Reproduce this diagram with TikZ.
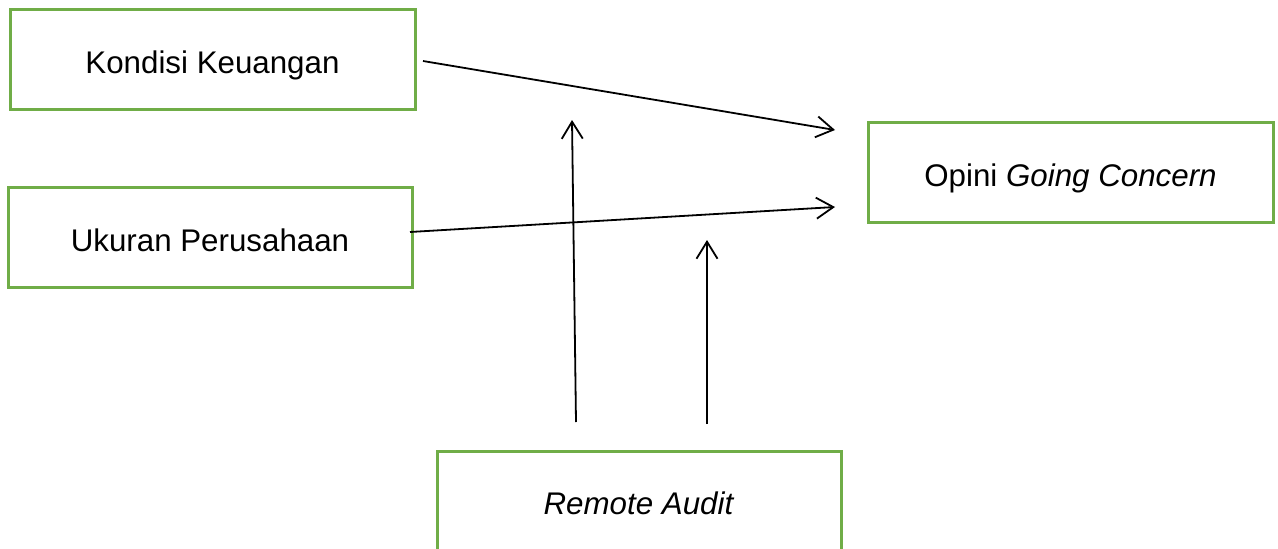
\documentclass[tikz,border=0pt]{standalone}
\usepackage{fontspec}
\setmainfont{Liberation Sans}
\usetikzlibrary{arrows.meta}
\definecolor{boxgreen}{RGB}{112,173,71}
\tikzset{
  varbox/.style={draw=boxgreen, line width=3pt, minimum width=#1, minimum height=100pt, inner sep=0pt,
    text height=27pt, text depth=0pt, font=\fontsize{31.3}{37}\selectfont},
  varbox/.default=405pt,
  link/.style={draw=black, line width=1.8pt, -{Straight Barb[length=17pt,width=21pt,line width=1.8pt]}}
}
\begin{document}
\begin{tikzpicture}[x=1pt,y=-1pt]
\useasboundingbox (0,0) rectangle (1278,549);
\begin{scope}
\clip (0,0) rectangle (1278,549);
\node[varbox] (kk) at (212.5,59.5) {Kondisi Keuangan};
\node[varbox=404pt] (up) at (210,237.5) {Ukuran Perusahaan};
\node[varbox] (og) at (1070.5,172.5) {Opini \textit{Going Concern}};
\node[varbox=404pt] (ra) at (639,501) {\textit{Remote Audit}};
\end{scope}
\coordinate (kkout) at (423,61);
\coordinate (ogin1) at (835,130);
\coordinate (upout) at (410,232);
\coordinate (ogin2) at (835,207);
\coordinate (raout1) at (576,422);
\coordinate (mod1) at (572,120);
\coordinate (raout2) at (707,424);
\coordinate (mod2) at (707,240);
\draw[link] (kkout) -- (ogin1);
\draw[link] (upout) -- (ogin2);
\draw[link] (raout1) -- (mod1);
\draw[link] (raout2) -- (mod2);
\end{tikzpicture}
\end{document}
